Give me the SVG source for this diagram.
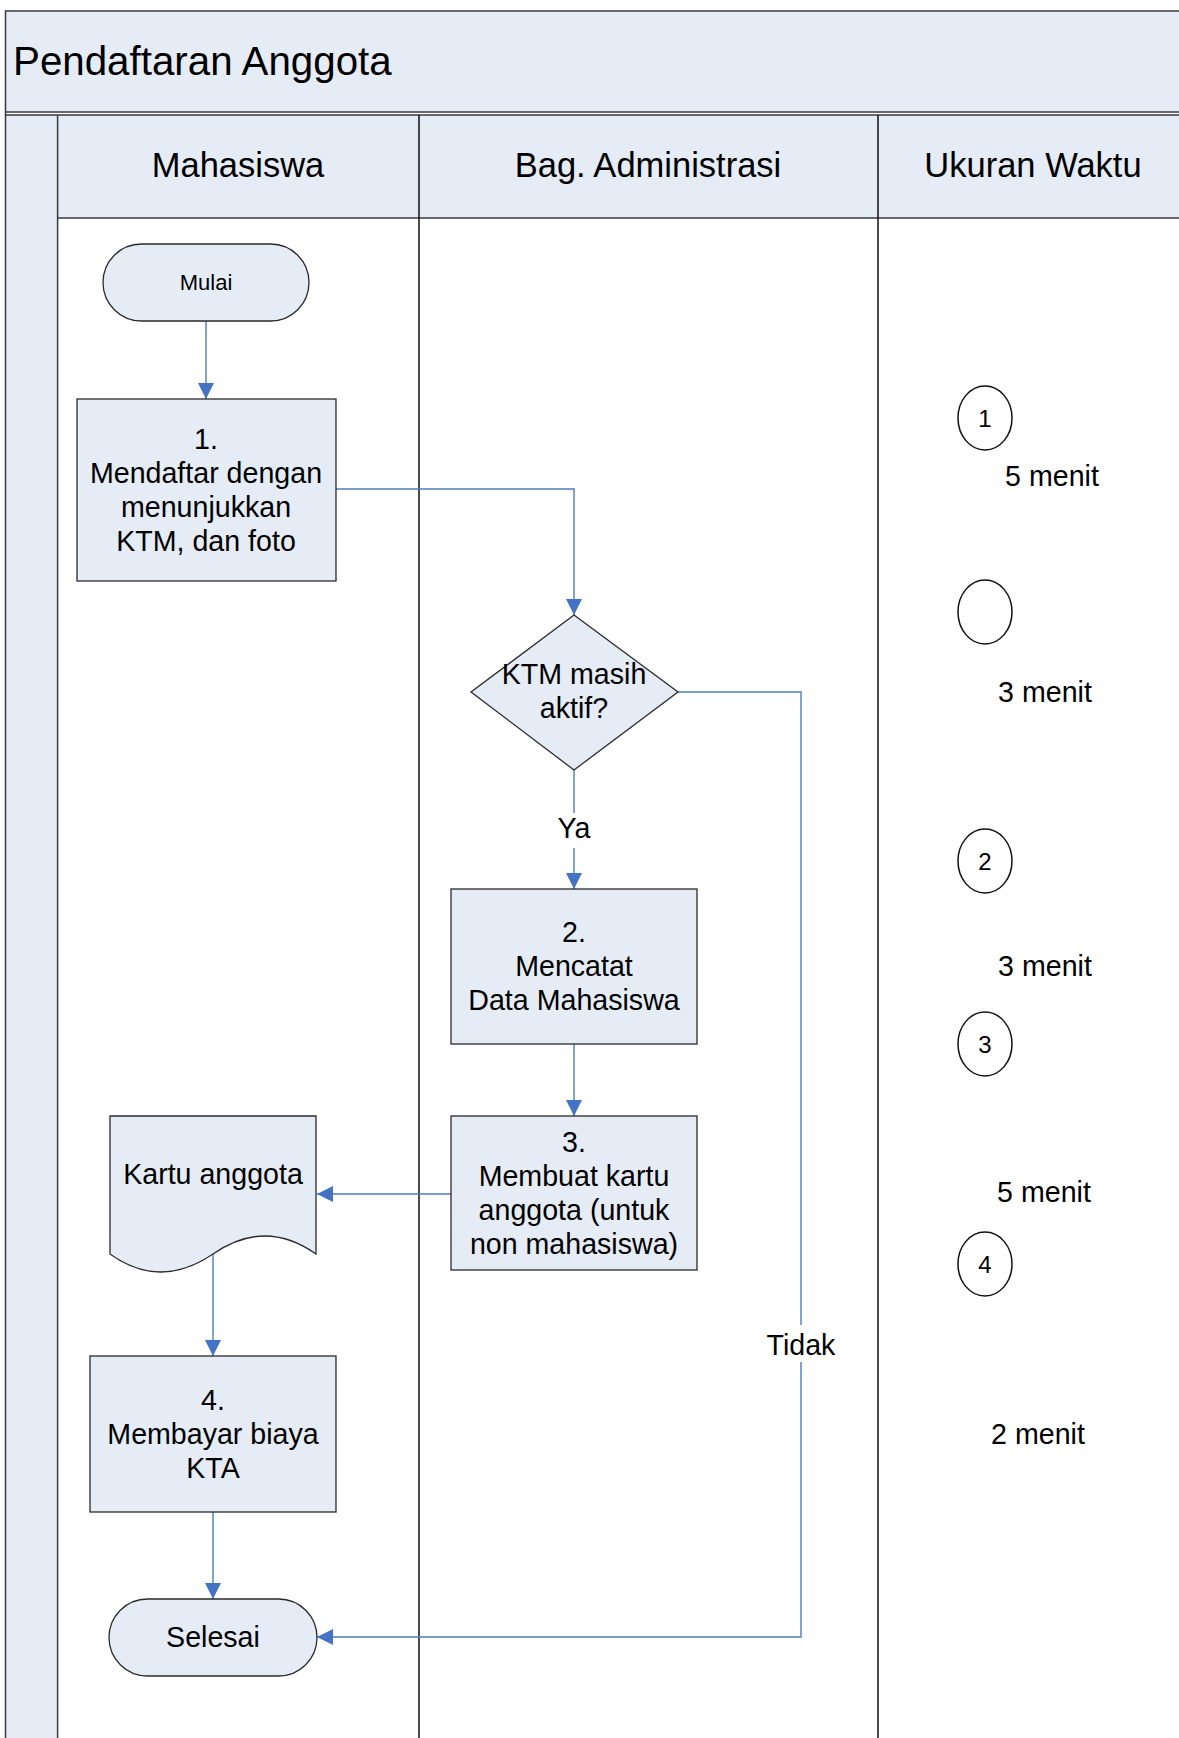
<svg xmlns="http://www.w3.org/2000/svg" width="1179" height="1738" viewBox="0 0 1179 1738">
  <style>
    .band { fill: #E6ECF6; }
    .frame { stroke: #3A3A3A; stroke-width: 1.5; fill: none; }
    .lane { stroke: #111; stroke-width: 1.5; fill: none; }
    .shape { fill: #E6ECF6; stroke: #2A2A2A; stroke-width: 1.3; }
    .ring { fill: #FFFFFF; stroke: #111; stroke-width: 1.5; }
    .conn { stroke: #4A7EBB; stroke-width: 1.4; fill: none; }
    text { font-family: "Liberation Sans", Arial, sans-serif; fill: #000; text-anchor: middle; }
    .title { font-size: 40.3px; text-anchor: start; }
    .head { font-size: 34.5px; }
    .body { font-size: 28.6px; }
    .small { font-size: 22px; }
    .num { font-size: 24px; }
  </style>
  <defs>
    <marker id="arrow" markerUnits="userSpaceOnUse" markerWidth="16" markerHeight="16" viewBox="0 0 16 16" refX="16" refY="8" orient="auto">
      <path d="M0,0 L16,8 L0,16 Z" fill="#4472C4"/>
    </marker>
  </defs>

  <rect width="1179" height="1738" fill="#FFFFFF"/>

  <!-- pool title band -->
  <g id="pool-title">
    <rect class="band" x="5.5" y="11" width="1174" height="101"/>
    <text class="title" x="13" y="75">Pendaftaran Anggota</text>
  </g>

  <!-- lane headers and left strip -->
  <g id="lane-headers">
    <rect class="band" x="5.5" y="115" width="52" height="1623"/>
    <rect class="band" x="57.6" y="115" width="1122" height="103"/>
    <text class="head" x="238" y="177">Mahasiswa</text>
    <text class="head" x="648" y="177">Bag. Administrasi</text>
    <text class="head" x="1033" y="177">Ukuran Waktu</text>
  </g>

  <!-- frame and lane lines -->
  <g id="grid">
    <path class="frame" d="M5.5,1738 V11 H1179"/>
    <path class="frame" d="M5.5,112 H1179 M5.5,115 H1179"/>
    <path class="frame" d="M57.6,115 V1738 M57.6,218 H1179"/>
    <path class="lane" d="M419,115 V1738 M878,115 V1738"/>
  </g>

  <!-- connectors -->
  <g id="connectors">
    <path class="conn" d="M206,321 V399" marker-end="url(#arrow)"/>
    <path class="conn" d="M336,489 H574 V615" marker-end="url(#arrow)"/>
    <path class="conn" d="M574,770 V813 M574,848 V889" marker-end="url(#arrow)"/>
    <path class="conn" d="M574,1044 V1116" marker-end="url(#arrow)"/>
    <path class="conn" d="M451,1194 H317" marker-end="url(#arrow)"/>
    <path class="conn" d="M213,1254 V1356" marker-end="url(#arrow)"/>
    <path class="conn" d="M213,1512 V1599" marker-end="url(#arrow)"/>
    <path class="conn" d="M678,692 H801 V1325 M801,1362 V1637 H317" marker-end="url(#arrow)"/>
    <text class="body" x="574" y="838">Ya</text>
    <text class="body" x="801" y="1355">Tidak</text>
  </g>

  <!-- nodes -->
  <g id="mulai">
    <rect class="shape" x="103" y="244" width="206" height="77" rx="38.5" ry="38.5"/>
    <text class="small" x="206" y="290">Mulai</text>
  </g>

  <g id="step1">
    <rect class="shape" x="77" y="399" width="259" height="182"/>
    <text class="body" x="206" y="449">1.</text>
    <text class="body" x="206" y="483">Mendaftar dengan</text>
    <text class="body" x="206" y="517">menunjukkan</text>
    <text class="body" x="206" y="551">KTM, dan foto</text>
  </g>

  <g id="decision">
    <polygon class="shape" points="574,615 678,692 574,770 471,692"/>
    <text class="body" x="574" y="684">KTM masih</text>
    <text class="body" x="574" y="718">aktif?</text>
  </g>

  <g id="step2">
    <rect class="shape" x="451" y="889" width="246" height="155"/>
    <text class="body" x="574" y="942">2.</text>
    <text class="body" x="574" y="976">Mencatat</text>
    <text class="body" x="574" y="1010">Data Mahasiswa</text>
  </g>

  <g id="step3">
    <rect class="shape" x="451" y="1116" width="246" height="154"/>
    <text class="body" x="574" y="1152">3.</text>
    <text class="body" x="574" y="1186">Membuat kartu</text>
    <text class="body" x="574" y="1220">anggota (untuk</text>
    <text class="body" x="574" y="1254">non mahasiswa)</text>
  </g>

  <g id="kartu-anggota">
    <path class="shape" d="M110,1116 H316 V1254 Q265,1218 213,1254 Q160,1290 110,1254 Z"/>
    <text class="body" x="213" y="1184">Kartu anggota</text>
  </g>

  <g id="step4">
    <rect class="shape" x="90" y="1356" width="246" height="156"/>
    <text class="body" x="213" y="1410">4.</text>
    <text class="body" x="213" y="1444">Membayar biaya</text>
    <text class="body" x="213" y="1478">KTA</text>
  </g>

  <g id="selesai">
    <rect class="shape" x="109" y="1599" width="208" height="77" rx="38.5" ry="38.5"/>
    <text class="body" x="213" y="1647">Selesai</text>
  </g>

  <!-- time markers -->
  <g id="time-1">
    <ellipse class="ring" cx="985" cy="418" rx="27" ry="32"/>
    <text class="num" x="985" y="427">1</text>
    <text class="body" x="1052" y="486">5 menit</text>
  </g>
  <g id="time-decision">
    <ellipse class="ring" cx="985" cy="612" rx="27" ry="32"/>
    <text class="body" x="1045" y="702">3 menit</text>
  </g>
  <g id="time-2">
    <ellipse class="ring" cx="985" cy="861" rx="27" ry="32"/>
    <text class="num" x="985" y="870">2</text>
    <text class="body" x="1045" y="976">3 menit</text>
  </g>
  <g id="time-3">
    <ellipse class="ring" cx="985" cy="1044" rx="27" ry="32"/>
    <text class="num" x="985" y="1053">3</text>
    <text class="body" x="1044" y="1202">5 menit</text>
  </g>
  <g id="time-4">
    <ellipse class="ring" cx="985" cy="1264" rx="27" ry="32"/>
    <text class="num" x="985" y="1273">4</text>
    <text class="body" x="1038" y="1444">2 menit</text>
  </g>
</svg>
